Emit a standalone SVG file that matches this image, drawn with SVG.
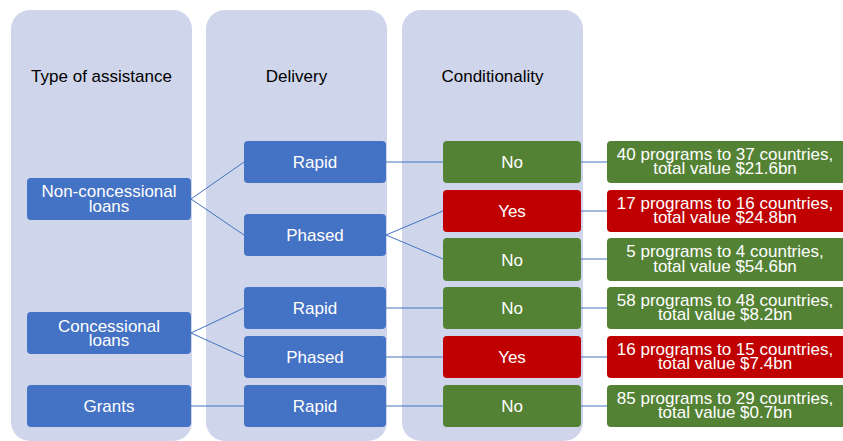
<svg xmlns="http://www.w3.org/2000/svg" width="843" height="441" viewBox="0 0 843 441">
<style>
.panel{fill:#CFD5EA}
.hdr{font-family:"Liberation Sans",Arial,sans-serif;font-size:17px;fill:#000;text-anchor:middle}
.lbl{font-family:"Liberation Sans",Arial,sans-serif;font-size:17px;fill:#fff;text-anchor:middle}
.blue{fill:#4472C4}
.green{fill:#548235}
.red{fill:#C00000}
.conn line{stroke:#4472C4;stroke-width:1}
</style>
<rect width="843" height="441" fill="#fff"/>
<g id="panels">
<rect class="panel" x="11" y="10" width="181" height="431" rx="19"/>
<rect class="panel" x="206" y="10" width="181" height="431" rx="19"/>
<rect class="panel" x="402" y="10" width="181" height="431" rx="19"/>
<text class="hdr" x="101.5" y="82">Type of assistance</text>
<text class="hdr" x="296.5" y="82">Delivery</text>
<text class="hdr" x="492.5" y="82">Conditionality</text>
</g>
<g id="connectors" class="conn">
<line x1="191" y1="199" x2="244" y2="162"/>
<line x1="191" y1="199" x2="244" y2="235"/>
<line x1="191" y1="333" x2="244" y2="308"/>
<line x1="191" y1="333" x2="244" y2="357"/>
<line x1="191" y1="406" x2="244" y2="406"/>
<line x1="386" y1="162" x2="443" y2="162"/>
<line x1="386" y1="235" x2="443" y2="211"/>
<line x1="386" y1="235" x2="443" y2="259"/>
<line x1="386" y1="308" x2="443" y2="308"/>
<line x1="386" y1="357" x2="443" y2="357"/>
<line x1="386" y1="406" x2="443" y2="406"/>
<line x1="581" y1="162" x2="607" y2="162"/>
<line x1="581" y1="211" x2="607" y2="211"/>
<line x1="581" y1="259" x2="607" y2="259"/>
<line x1="581" y1="308" x2="607" y2="308"/>
<line x1="581" y1="357" x2="607" y2="357"/>
<line x1="581" y1="406" x2="607" y2="406"/>
</g>
<g id="n-nonconc"><rect class="blue" x="27" y="178" width="164" height="42" rx="4"/><text class="lbl" x="109" y="197">Non-concessional</text><text class="lbl" x="109" y="211.5">loans</text></g>
<g id="n-conc"><rect class="blue" x="27" y="312" width="164" height="42" rx="4"/><text class="lbl" x="109" y="331.5">Concessional</text><text class="lbl" x="109" y="346">loans</text></g>
<g id="n-grants"><rect class="blue" x="27" y="385" width="164" height="42" rx="4"/><text class="lbl" x="109" y="412">Grants</text></g>
<g id="d-rapid1"><rect class="blue" x="244" y="141" width="142" height="42" rx="4"/><text class="lbl" x="315" y="168">Rapid</text></g>
<g id="d-phased1"><rect class="blue" x="244" y="214" width="142" height="42" rx="4"/><text class="lbl" x="315" y="241">Phased</text></g>
<g id="d-rapid2"><rect class="blue" x="244" y="287" width="142" height="42" rx="4"/><text class="lbl" x="315" y="314">Rapid</text></g>
<g id="d-phased2"><rect class="blue" x="244" y="336" width="142" height="42" rx="4"/><text class="lbl" x="315" y="363">Phased</text></g>
<g id="d-rapid3"><rect class="blue" x="244" y="385" width="142" height="42" rx="4"/><text class="lbl" x="315" y="412">Rapid</text></g>
<g id="c-no1"><rect class="green" x="443" y="141" width="138" height="42" rx="4"/><text class="lbl" x="512" y="168">No</text></g>
<g id="c-yes1"><rect class="red" x="443" y="190" width="138" height="42" rx="4"/><text class="lbl" x="512" y="217">Yes</text></g>
<g id="c-no2"><rect class="green" x="443" y="238" width="138" height="43" rx="4"/><text class="lbl" x="512" y="265.5">No</text></g>
<g id="c-no3"><rect class="green" x="443" y="287" width="138" height="42" rx="4"/><text class="lbl" x="512" y="314">No</text></g>
<g id="c-yes2"><rect class="red" x="443" y="336" width="138" height="42" rx="4"/><text class="lbl" x="512" y="363">Yes</text></g>
<g id="c-no4"><rect class="green" x="443" y="385" width="138" height="42" rx="4"/><text class="lbl" x="512" y="412">No</text></g>
<g id="r1"><rect class="green" x="607" y="141" width="250" height="42" rx="4"/><text class="lbl" x="725" y="159.5">40 programs to 37 countries,</text><text class="lbl" x="725" y="174">total value $21.6bn</text></g>
<g id="r2"><rect class="red" x="607" y="190" width="250" height="42" rx="4"/><text class="lbl" x="725" y="208.5">17 programs to 16 countries,</text><text class="lbl" x="725" y="223">total value $24.8bn</text></g>
<g id="r3"><rect class="green" x="607" y="238" width="250" height="43" rx="4"/><text class="lbl" x="725" y="257">5 programs to 4 countries,</text><text class="lbl" x="725" y="271.5">total value $54.6bn</text></g>
<g id="r4"><rect class="green" x="607" y="287" width="250" height="42" rx="4"/><text class="lbl" x="725" y="305.5">58 programs to 48 countries,</text><text class="lbl" x="725" y="320">total value $8.2bn</text></g>
<g id="r5"><rect class="red" x="607" y="336" width="250" height="42" rx="4"/><text class="lbl" x="725" y="354.5">16 programs to 15 countries,</text><text class="lbl" x="725" y="369">total value $7.4bn</text></g>
<g id="r6"><rect class="green" x="607" y="385" width="250" height="42" rx="4"/><text class="lbl" x="725" y="403.5">85 programs to 29 countries,</text><text class="lbl" x="725" y="418">total value $0.7bn</text></g>
</svg>
